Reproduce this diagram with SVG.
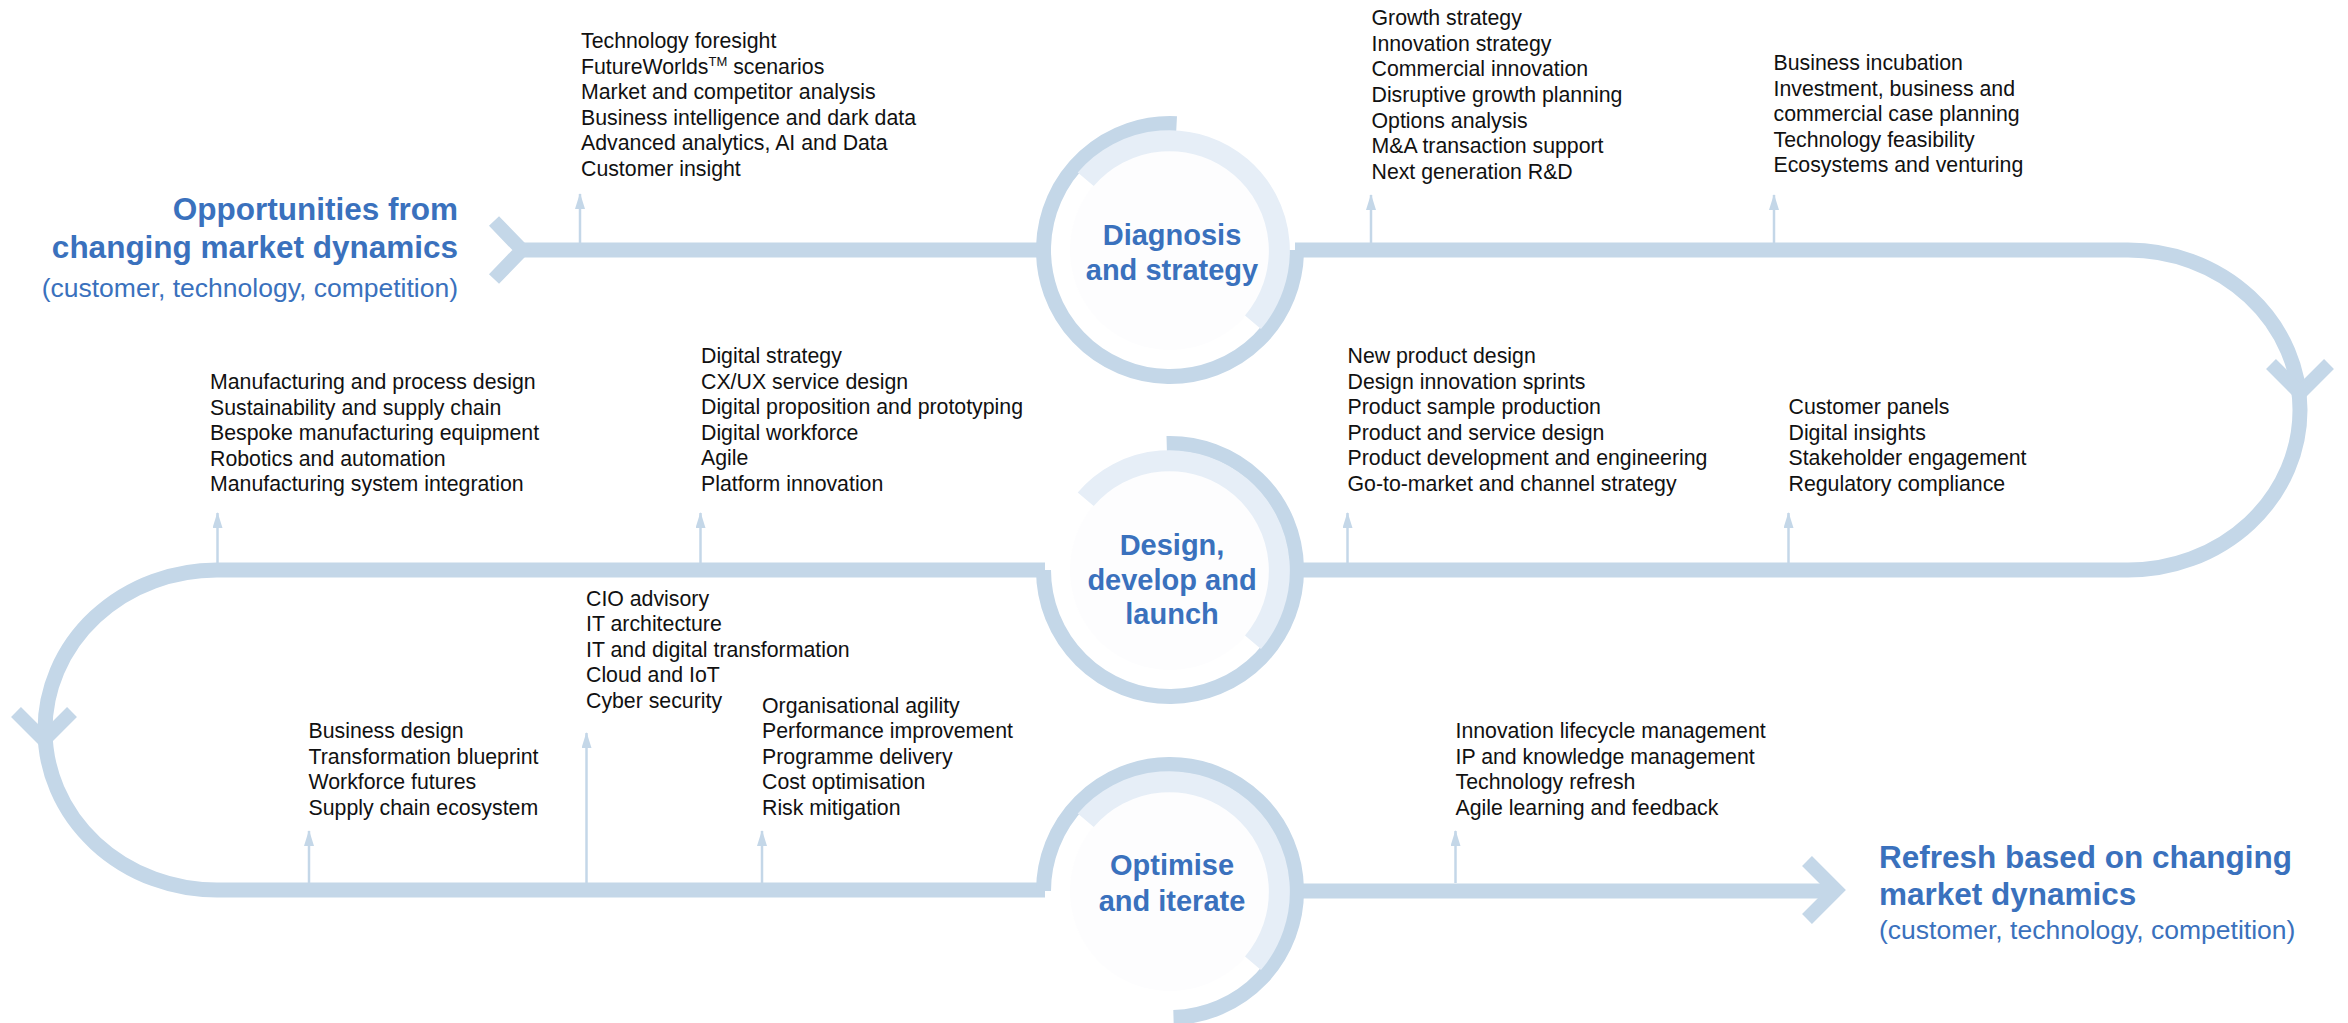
<svg xmlns="http://www.w3.org/2000/svg" width="2348" height="1023" viewBox="0 0 2348 1023">
<style>
.bar{fill:none;stroke:#c4d7e8;stroke-width:15;stroke-linecap:butt}
.chev{fill:none;stroke:#c4d7e8;stroke-width:14;stroke-linejoin:miter;stroke-miterlimit:4}
.tick{stroke:#c4d7e8;stroke-width:2.5}
.ring{fill:none;stroke:#c4d7e8;stroke-width:15}
.lring{fill:none;stroke:#e6eef7;stroke-width:21}
.core{fill:#fdfdfe}
.lst{font-family:"Liberation Sans",Arial,sans-serif;font-size:21.3px;fill:#111}
.stage{font-family:"Liberation Sans",Arial,sans-serif;font-size:29px;font-weight:bold;fill:#3a71bd;text-anchor:middle}
.ttl{font-family:"Liberation Sans",Arial,sans-serif;font-size:31.5px;font-weight:bold;fill:#3a71bd}
.sub{font-family:"Liberation Sans",Arial,sans-serif;font-size:26.5px;fill:#3a71bd}
</style>
<defs>
<marker id="ah" viewBox="0 0 16 10" refX="15" refY="5" markerWidth="16" markerHeight="10" markerUnits="userSpaceOnUse" orient="auto">
<path d="M0,0 L16,5 L0,10 z" fill="#c4d7e8"/>
</marker>
</defs>

<g id="connectors">
<path class="bar" d="M518 250 H1045"/>
<path class="bar" d="M1295 250 H2128 A172 160 0 0 1 2128 570 H1295"/>
<path class="bar" d="M1045 570 H217 A172 160 0 0 0 217 890 H1045"/>
<path class="bar" d="M1295 891 H1834"/>
<polyline class="chev" points="494,221 522,250 494,279"/>
<polyline class="chev" points="1807,861 1836,890 1807,919"/>
<polyline class="chev" points="2271,364 2300,393 2329,364"/>
<polyline class="chev" points="16,712 44,740 72,712"/>
<line class="tick" x1="580" y1="243" x2="580" y2="194" marker-end="url(#ah)"/>
<line class="tick" x1="1371" y1="243" x2="1371" y2="195" marker-end="url(#ah)"/>
<line class="tick" x1="1774" y1="243" x2="1774" y2="195" marker-end="url(#ah)"/>
<line class="tick" x1="217.5" y1="563" x2="217.5" y2="513" marker-end="url(#ah)"/>
<line class="tick" x1="700.5" y1="563" x2="700.5" y2="513" marker-end="url(#ah)"/>
<line class="tick" x1="1347.5" y1="563" x2="1347.5" y2="513" marker-end="url(#ah)"/>
<line class="tick" x1="1788.5" y1="563" x2="1788.5" y2="513" marker-end="url(#ah)"/>
<line class="tick" x1="309" y1="883" x2="309" y2="831" marker-end="url(#ah)"/>
<line class="tick" x1="586.5" y1="883" x2="586.5" y2="733" marker-end="url(#ah)"/>
<line class="tick" x1="762" y1="883" x2="762" y2="831" marker-end="url(#ah)"/>
<line class="tick" x1="1455.5" y1="883" x2="1455.5" y2="831" marker-end="url(#ah)"/>
</g>

<g id="stage-diagnosis">
<path class="ring" d="M1176.6 123.7 A126.5 126.5 0 1 0 1296.5 250"/>
<circle class="core" cx="1170" cy="250" r="100"/>
<path class="lring" d="M1085.7 179.3 A110 110 0 1 1 1253 322.2"/>
<text class="stage" x="1172" y="245">Diagnosis</text>
<text class="stage" x="1172" y="280">and strategy</text>
</g>

<g id="stage-design">
<path class="ring" d="M1166.7 443.5 A126.5 126.5 0 1 1 1043.5 570"/>
<circle class="core" cx="1170" cy="570" r="100"/>
<path class="lring" d="M1085.7 499.3 A110 110 0 1 1 1253 642.2"/>
<text class="stage" x="1172" y="555">Design,</text>
<text class="stage" x="1172" y="590">develop and</text>
<text class="stage" x="1172" y="624">launch</text>
</g>

<g id="stage-optimise">
<path class="ring" d="M1043.5 891 A126.5 126.5 0 1 1 1173.5 1017.5"/>
<circle class="core" cx="1170" cy="891" r="100"/>
<path class="lring" d="M1085.7 820.3 A110 110 0 1 1 1253 963.2"/>
<text class="stage" x="1172" y="875">Optimise</text>
<text class="stage" x="1172" y="911">and iterate</text>
</g>

<g id="title-start">
<text class="ttl" x="458" y="220" text-anchor="end">Opportunities from</text>
<text class="ttl" x="458" y="258" text-anchor="end">changing market dynamics</text>
<text class="sub" x="458" y="297" text-anchor="end">(customer, technology, competition)</text>
</g>

<g id="title-end">
<text class="ttl" x="1879" y="868">Refresh based on changing</text>
<text class="ttl" x="1879" y="905">market dynamics</text>
<text class="sub" x="1879" y="939">(customer, technology, competition)</text>
</g>

<g id="list-foresight">
<text class="lst">
<tspan x="581" y="48">Technology foresight</tspan>
<tspan x="581" y="73.5">FutureWorlds<tspan font-size="13" dy="-8">TM</tspan><tspan dy="8"> scenarios</tspan></tspan>
<tspan x="581" y="99">Market and competitor analysis</tspan>
<tspan x="581" y="124.6">Business intelligence and dark data</tspan>
<tspan x="581" y="150.2">Advanced analytics, AI and Data</tspan>
<tspan x="581" y="175.8">Customer insight</tspan>
</text>
</g>

<g id="list-strategy">
<text class="lst">
<tspan x="1371.5" y="25">Growth strategy</tspan>
<tspan x="1371.5" y="50.7">Innovation strategy</tspan>
<tspan x="1371.5" y="76.3">Commercial innovation</tspan>
<tspan x="1371.5" y="102">Disruptive growth planning</tspan>
<tspan x="1371.5" y="127.7">Options analysis</tspan>
<tspan x="1371.5" y="153.3">M&amp;A transaction support</tspan>
<tspan x="1371.5" y="179">Next generation R&amp;D</tspan>
</text>
</g>

<g id="list-incubation">
<text class="lst">
<tspan x="1773.5" y="70">Business incubation</tspan>
<tspan x="1773.5" y="95.6">Investment, business and</tspan>
<tspan x="1773.5" y="121.2">commercial case planning</tspan>
<tspan x="1773.5" y="146.8">Technology feasibility</tspan>
<tspan x="1773.5" y="172.4">Ecosystems and venturing</tspan>
</text>
</g>

<g id="list-manufacturing">
<text class="lst">
<tspan x="210" y="389">Manufacturing and process design</tspan>
<tspan x="210" y="414.5">Sustainability and supply chain</tspan>
<tspan x="210" y="440">Bespoke manufacturing equipment</tspan>
<tspan x="210" y="465.5">Robotics and automation</tspan>
<tspan x="210" y="491">Manufacturing system integration</tspan>
</text>
</g>

<g id="list-digital">
<text class="lst">
<tspan x="701" y="363">Digital strategy</tspan>
<tspan x="701" y="388.5">CX/UX service design</tspan>
<tspan x="701" y="414">Digital proposition and prototyping</tspan>
<tspan x="701" y="439.5">Digital workforce</tspan>
<tspan x="701" y="465">Agile</tspan>
<tspan x="701" y="490.5">Platform innovation</tspan>
</text>
</g>

<g id="list-product">
<text class="lst">
<tspan x="1347.5" y="363">New product design</tspan>
<tspan x="1347.5" y="388.5">Design innovation sprints</tspan>
<tspan x="1347.5" y="414">Product sample production</tspan>
<tspan x="1347.5" y="439.5">Product and service design</tspan>
<tspan x="1347.5" y="465">Product development and engineering</tspan>
<tspan x="1347.5" y="490.5">Go-to-market and channel strategy</tspan>
</text>
</g>

<g id="list-customer">
<text class="lst">
<tspan x="1788.5" y="414">Customer panels</tspan>
<tspan x="1788.5" y="439.5">Digital insights</tspan>
<tspan x="1788.5" y="465">Stakeholder engagement</tspan>
<tspan x="1788.5" y="490.5">Regulatory compliance</tspan>
</text>
</g>

<g id="list-business">
<text class="lst">
<tspan x="308.5" y="738">Business design</tspan>
<tspan x="308.5" y="763.6">Transformation blueprint</tspan>
<tspan x="308.5" y="789.2">Workforce futures</tspan>
<tspan x="308.5" y="814.8">Supply chain ecosystem</tspan>
</text>
</g>

<g id="list-it">
<text class="lst">
<tspan x="586" y="605.5">CIO advisory</tspan>
<tspan x="586" y="631">IT architecture</tspan>
<tspan x="586" y="656.5">IT and digital transformation</tspan>
<tspan x="586" y="682">Cloud and IoT</tspan>
<tspan x="586" y="707.5">Cyber security</tspan>
</text>
</g>

<g id="list-agility">
<text class="lst">
<tspan x="762" y="712.5">Organisational agility</tspan>
<tspan x="762" y="738">Performance improvement</tspan>
<tspan x="762" y="763.5">Programme delivery</tspan>
<tspan x="762" y="789">Cost optimisation</tspan>
<tspan x="762" y="814.5">Risk mitigation</tspan>
</text>
</g>

<g id="list-lifecycle">
<text class="lst">
<tspan x="1455.5" y="738">Innovation lifecycle management</tspan>
<tspan x="1455.5" y="763.6">IP and knowledge management</tspan>
<tspan x="1455.5" y="789.2">Technology refresh</tspan>
<tspan x="1455.5" y="814.8">Agile learning and feedback</tspan>
</text>
</g>
</svg>
